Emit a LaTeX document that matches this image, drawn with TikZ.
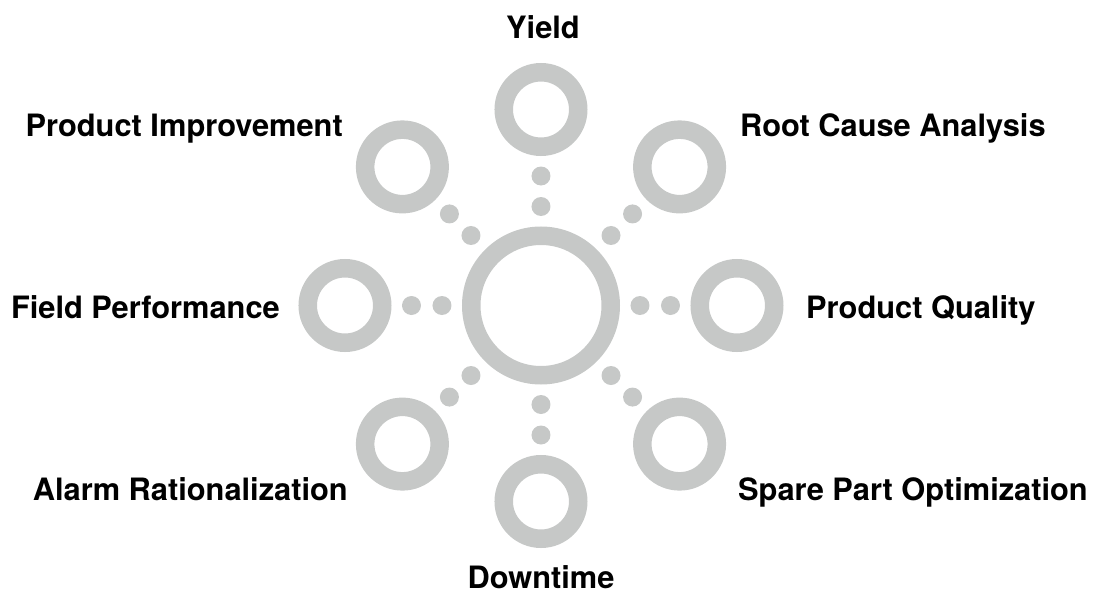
\documentclass[tikz,border=0pt]{standalone}
\usepackage{fontspec}
\setmainfont{TeX Gyre Heros}
\definecolor{ringgray}{RGB}{198,200,199}
\tikzset{
  ring/.style={circle, draw=ringgray, line width=18.5pt, inner sep=0pt, minimum size=74.5pt},
  hub/.style={ring, minimum size=139.5pt},
  dot/.style={circle, fill=ringgray, inner sep=0pt, minimum size=19pt},
  lbl/.style={font=\bfseries\fontsize{30.8}{36}\selectfont, inner sep=0pt}
}
\begin{document}
\begin{tikzpicture}[x=1pt,y=1pt]
\useasboundingbox (-541,-289.5) rectangle (563,305.5);
\node[hub] (hub) at (0,0) {};
% outer rings with two dots each
\foreach \a/\n in {90/yield,45/root,0/quality,-45/spare,-90/down,-135/alarm,180/field,135/improve}{
  \node[ring] (\n) at (\a:196) {};
  \node[dot] (\n-a) at (\a:99) {};
  \node[dot] (\n-b) at (\a:129.5) {};
}
\node[lbl, anchor=base] (yield-t) at (2,266.5) {Yield};
\node[lbl, anchor=base east] (improve-t) at (-198,168.8) {Product Improvement};
\node[lbl, anchor=base west] (root-t) at (199,168.8) {Root Cause Analysis};
\node[lbl, anchor=base east] (field-t) at (-261,-12.5) {Field Performance};
\node[lbl, anchor=base west] (quality-t) at (265,-12.5) {Product Quality};
\node[lbl, anchor=base east] (alarm-t) at (-193,-194.5) {Alarm Rationalization};
\node[lbl, anchor=base west] (spare-t) at (197,-194.5) {Spare Part Optimization};
\node[lbl, anchor=base] (down-t) at (0,-283) {Downtime};
\end{tikzpicture}
\end{document}
